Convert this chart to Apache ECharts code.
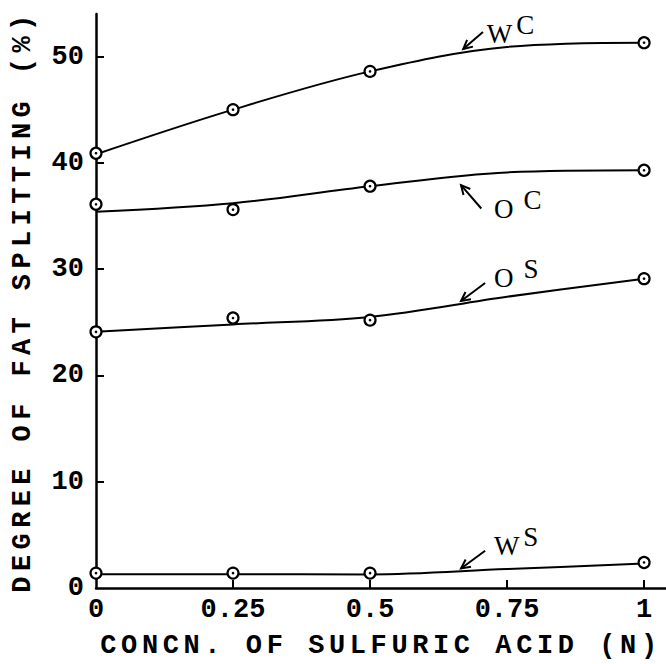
<!DOCTYPE html>
<html>
<head>
<meta charset="utf-8">
<script src="https://cdn.jsdelivr.net/npm/echarts@6/dist/echarts.min.js"></script>
<style>
html,body{margin:0;padding:0;background:#fff;}
#chart{width:666px;height:664px;}
</style>
</head>
<body>
<div id="chart"></div>
<script>
// ---- data ----
const xName = 'CONCN. OF SULFURIC ACID (N)';
const yName = 'DEGREE OF FAT SPLITTING (%)';
const xTicks = [0, 0.25, 0.5, 0.75, 1];
const yTicks = [0, 10, 20, 30, 40, 50];

const pointX = [0, 0.25, 0.5, 1];
const wcPts = [40.9, 45.0, 48.6, 51.3];
const ocPts = [36.1, 35.6, 37.8, 39.3];
const osPts = [24.1, 25.4, 25.2, 29.1];
const wsPts = [1.4, 1.4, 1.4, 2.4];

// fitted curves
const curveX = [0, 0.25, 0.5, 0.75, 1];
const wcCurve = [40.8, 45.0, 48.6, 50.9, 51.3];
const ocCurve = [35.4, 36.2, 37.8, 39.1, 39.3];
const osCurve = [24.1, 24.8, 25.5, 27.4, 29.1];
const wsCurve = [1.3, 1.3, 1.28, 1.78, 2.3];

// annotations
const annoLabels = [['W', 'C'], ['O', 'C'], ['O', 'S'], ['W', 'S']];
const annoHead = [[0.670, 50.7], [0.666, 37.9], [0.666, 27.0], [0.666, 1.84]];
const annoTail = [[0.706, 52.3], [0.703, 35.7], [0.710, 28.7], [0.710, 3.5]];
const annoText = [[0.713, 52.5], [0.726, 36.1], [0.726, 29.6], [0.726, 4.4]];

const FONT = "'Liberation Mono', 'DejaVu Sans Mono', monospace";
const SERIF = "'Liberation Serif', 'DejaVu Serif', serif";

function zip(xs, ys) { return xs.map((x, i) => [x, ys[i]]); }

const curves = [wcCurve, ocCurve, osCurve, wsCurve];
const pts = [wcPts, ocPts, osPts, wsPts];

const series = [];
curves.forEach(c => series.push({
  type: 'line', data: zip(curveX, c), smooth: 0.35, symbol: 'none',
  lineStyle: { color: '#000', width: 2 }, silent: true, z: 2
}));
pts.forEach(p => {
  series.push({
    type: 'scatter', data: zip(pointX, p), symbol: 'circle', symbolSize: 11,
    itemStyle: { color: '#fff', borderColor: '#000', borderWidth: 2.2, opacity: 1 }, z: 5, silent: true
  });
  series.push({
    type: 'scatter', data: zip(pointX, p), symbol: 'circle', symbolSize: 2.6,
    itemStyle: { color: '#000', opacity: 1 }, z: 6, silent: true
  });
});

const chart = echarts.init(document.getElementById('chart'), null, { renderer: 'svg' });
chart.setOption({
  animation: false,
  backgroundColor: '#fff',
  grid: { left: 96, right: 0, top: 14, bottom: 64, containLabel: false },
  xAxis: {
    type: 'value', min: 0, max: 1.04,
    name: xName, nameLocation: 'middle', nameGap: 44,
    nameTextStyle: { fontFamily: FONT, fontSize: 27, fontWeight: 'bold', color: '#000' },
    axisLine: { show: true, onZero: false, lineStyle: { color: '#000', width: 2.5 } },
    axisTick: { show: true, inside: true, length: 8, customValues: xTicks.slice(1), lineStyle: { color: '#000', width: 2 } },
    axisLabel: { customValues: xTicks, fontFamily: FONT, fontSize: 27, color: '#000', margin: 8, fontWeight: 'bold' },
    splitLine: { show: false }
  },
  yAxis: {
    type: 'value', min: 0, max: 54,
    name: yName, nameLocation: 'middle', nameGap: 60, nameRotate: 90,
    nameTextStyle: { fontFamily: FONT, fontSize: 27, fontWeight: 'bold', color: '#000' },
    axisLine: { show: true, onZero: false, lineStyle: { color: '#000', width: 2.5 } },
    axisTick: { show: true, inside: true, length: 8, customValues: yTicks.slice(1), lineStyle: { color: '#000', width: 2 } },
    axisLabel: { customValues: yTicks, fontFamily: FONT, fontSize: 27, color: '#000', margin: 12, fontWeight: 'bold' },
    splitLine: { show: false }
  },
  series: series
});

function addAnnotations() {
  const g = [];
  annoLabels.forEach((lab, i) => {
    const h = chart.convertToPixel({ gridIndex: 0 }, annoHead[i]);
    const t = chart.convertToPixel({ gridIndex: 0 }, annoTail[i]);
    const p = chart.convertToPixel({ gridIndex: 0 }, annoText[i]);
    const dx = h[0] - t[0], dy = h[1] - t[1];
    const len = Math.sqrt(dx * dx + dy * dy);
    const ux = dx / len, uy = dy / len;
    const hl = 9, hw = 4.5;
    const b1 = [h[0] - ux * hl - uy * hw, h[1] - uy * hl + ux * hw];
    const b2 = [h[0] - ux * hl + uy * hw, h[1] - uy * hl - ux * hw];
    g.push({ type: 'polyline', shape: { points: [t, h] }, style: { stroke: '#000', lineWidth: 2 }, z: 10 });
    g.push({ type: 'polyline', shape: { points: [b1, h, b2] }, style: { stroke: '#000', lineWidth: 2, fill: null }, z: 10 });
    g.push({
      type: 'text', x: p[0], y: p[1], z: 10,
      style: {
        text: '{a|' + lab[0] + '}{b|' + lab[1] + '}',
        verticalAlign: 'middle', align: 'left',
        rich: {
          a: { fontFamily: SERIF, fontSize: 27, fill: '#000', verticalAlign: 'bottom', lineHeight: 36, padding: [0, lab[0] === 'O' ? 10 : 4, 0, 0] },
          b: { fontFamily: SERIF, fontSize: 27, fill: '#000', verticalAlign: 'top', lineHeight: 26 }
        }
      }
    });
  });
  chart.setOption({ graphic: g });
}
addAnnotations();

function spaceNames() {
  document.querySelectorAll('#chart text').forEach(el => {
    const s = el.textContent;
    if (s === xName) el.style.letterSpacing = '0.17em';
    if (s === yName) el.style.letterSpacing = '0.2em';
  });
}
spaceNames();
chart.on('finished', spaceNames);
setTimeout(spaceNames, 50);
</script>
</body>
</html>
